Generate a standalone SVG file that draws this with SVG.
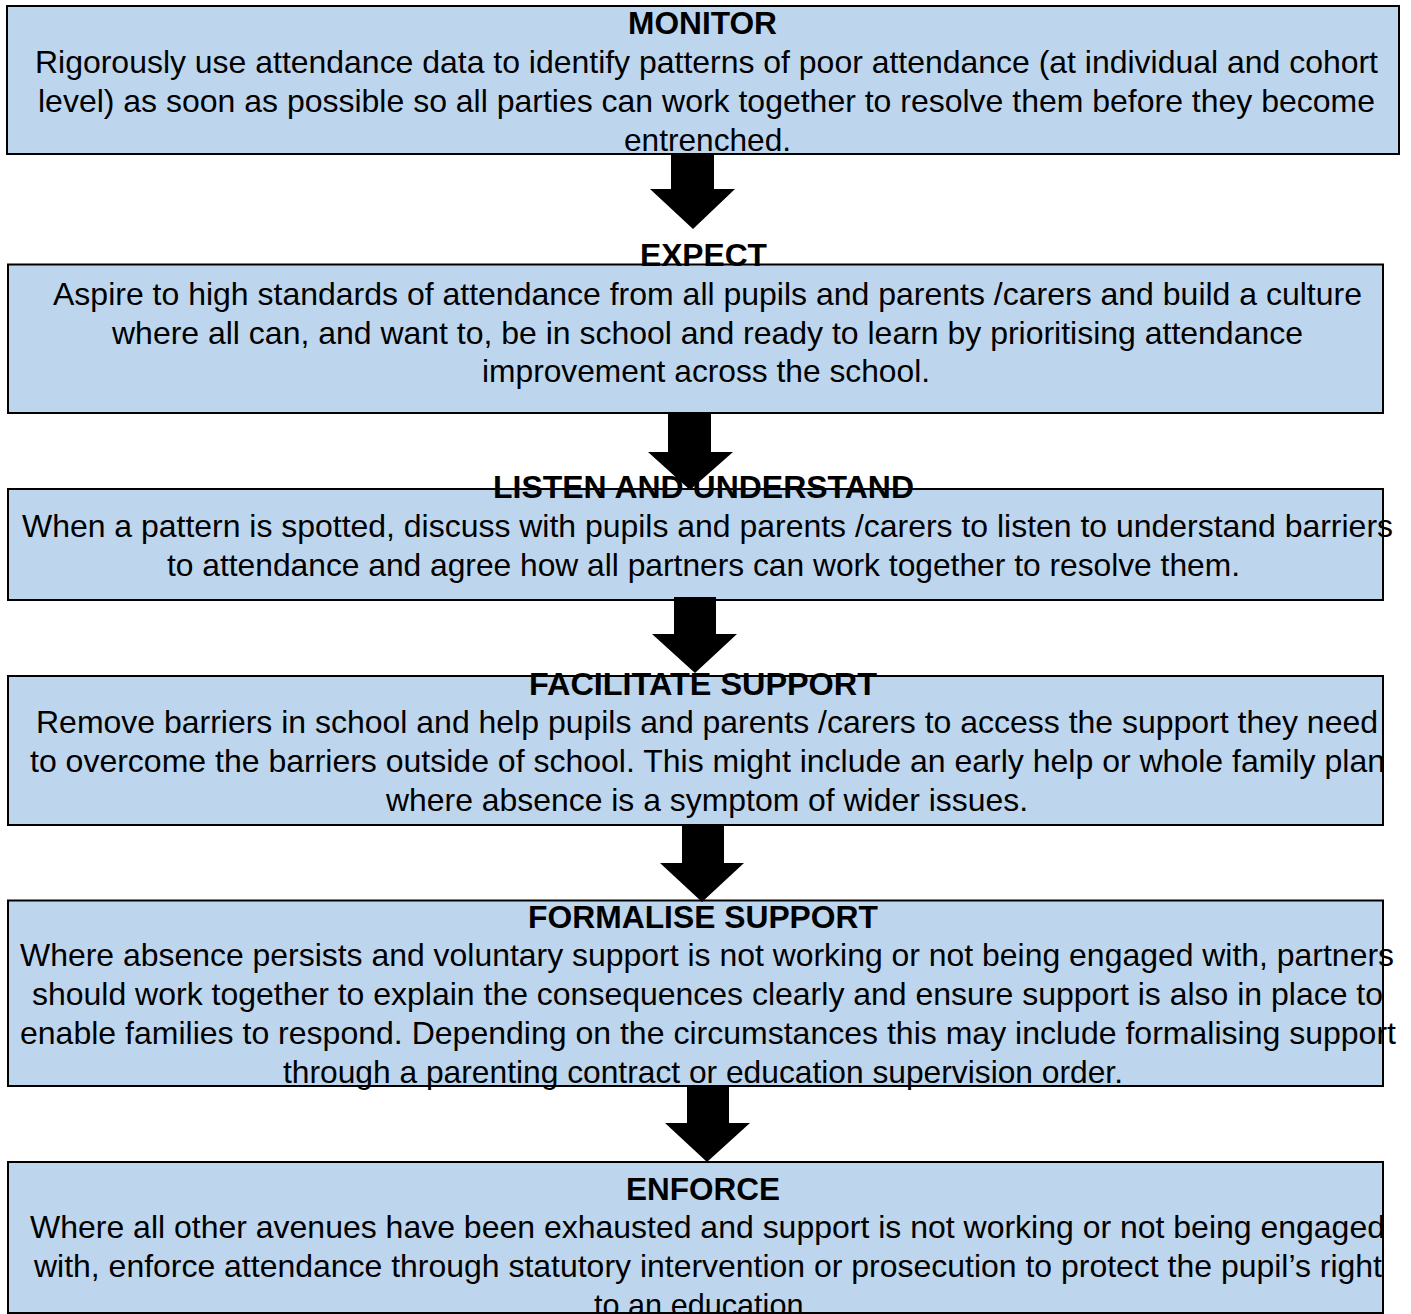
<svg xmlns="http://www.w3.org/2000/svg" width="1411" height="1314" viewBox="0 0 1411 1314">
<style>
.box{fill:#BDD6EE;stroke:#000;stroke-width:2}
.t{font-family:Arial,"Liberation Sans",Arimo,Helvetica,sans-serif;font-size:30.5px;fill:#000;text-anchor:middle}
.h{font-weight:bold}
.arr{fill:#000}
</style>
<rect width="1411" height="1314" fill="#fff"/>
<g id="monitor">
<rect class="box" x="7" y="6" width="1392" height="148"/>
<text class="t h" x="702.5" y="34.3" textLength="149" lengthAdjust="spacingAndGlyphs">MONITOR</text>
<text class="t" x="706.5" y="73" textLength="1343" lengthAdjust="spacingAndGlyphs">Rigorously use attendance data to identify patterns of poor attendance (at individual and cohort</text>
<text class="t" x="706.5" y="111.8" textLength="1337" lengthAdjust="spacingAndGlyphs">level) as soon as possible so all parties can work together to resolve them before they become</text>
<text class="t" x="707.5" y="150.5" textLength="167" lengthAdjust="spacingAndGlyphs">entrenched.</text>
</g>
<g id="expect">
<rect class="box" x="8" y="264.5" width="1375" height="148.5"/>
<text class="t h" x="703.5" y="266" textLength="127" lengthAdjust="spacingAndGlyphs">EXPECT</text>
<text class="t" x="707.5" y="304.75" textLength="1309" lengthAdjust="spacingAndGlyphs">Aspire to high standards of attendance from all pupils and parents /carers and build a culture</text>
<text class="t" x="707.5" y="343.5" textLength="1191" lengthAdjust="spacingAndGlyphs">where all can, and want to, be in school and ready to learn by prioritising attendance</text>
<text class="t" x="706" y="382.25" textLength="448" lengthAdjust="spacingAndGlyphs">improvement across the school.</text>
</g>
<g id="listen">
<rect class="box" x="8" y="489" width="1375" height="111"/>
<text class="t h" x="703.5" y="498" textLength="421" lengthAdjust="spacingAndGlyphs">LISTEN AND UNDERSTAND</text>
<text class="t" x="707.5" y="536.75" textLength="1371" lengthAdjust="spacingAndGlyphs">When a pattern is spotted, discuss with pupils and parents /carers to listen to understand barriers</text>
<text class="t" x="703.5" y="575.5" textLength="1073" lengthAdjust="spacingAndGlyphs">to attendance and agree how all partners can work together to resolve them.</text>
</g>
<g id="facilitate">
<rect class="box" x="8" y="676" width="1375" height="149"/>
<text class="t h" x="703" y="694.5" textLength="348" lengthAdjust="spacingAndGlyphs">FACILITATE SUPPORT</text>
<text class="t" x="707" y="733.25" textLength="1342" lengthAdjust="spacingAndGlyphs">Remove barriers in school and help pupils and parents /carers to access the support they need</text>
<text class="t" x="707.5" y="772" textLength="1355" lengthAdjust="spacingAndGlyphs">to overcome the barriers outside of school. This might include an early help or whole family plan</text>
<text class="t" x="707" y="810.75" textLength="642" lengthAdjust="spacingAndGlyphs">where absence is a symptom of wider issues.</text>
</g>
<g id="formalise">
<rect class="box" x="8" y="900.5" width="1375" height="185.5"/>
<text class="t h" x="703" y="927.5" textLength="350" lengthAdjust="spacingAndGlyphs">FORMALISE SUPPORT</text>
<text class="t" x="707" y="966.25" textLength="1374" lengthAdjust="spacingAndGlyphs">Where absence persists and voluntary support is not working or not being engaged with, partners</text>
<text class="t" x="707.5" y="1005" textLength="1351" lengthAdjust="spacingAndGlyphs">should work together to explain the consequences clearly and ensure support is also in place to</text>
<text class="t" x="708" y="1043.75" textLength="1376" lengthAdjust="spacingAndGlyphs">enable families to respond. Depending on the circumstances this may include formalising support</text>
<text class="t" x="703" y="1082.5" textLength="840" lengthAdjust="spacingAndGlyphs">through a parenting contract or education supervision order.</text>
</g>
<g id="enforce">
<rect class="box" x="8" y="1162" width="1375" height="151"/>
<text class="t h" x="703" y="1199.5" textLength="154" lengthAdjust="spacingAndGlyphs">ENFORCE</text>
<text class="t" x="707.5" y="1238.25" textLength="1355" lengthAdjust="spacingAndGlyphs">Where all other avenues have been exhausted and support is not working or not being engaged</text>
<text class="t" x="708" y="1277" textLength="1348" lengthAdjust="spacingAndGlyphs">with, enforce attendance through statutory intervention or prosecution to protect the pupil’s right</text>
<text class="t" x="703" y="1315.75" textLength="218" lengthAdjust="spacingAndGlyphs">to an education.</text>
</g>
<g id="connectors">
<polygon class="arr" points="671,153 714,153 714,189 735,189 693,229 650,189 671,189"/>
<polygon class="arr" points="668,413 711,413 711,452 733,452 690,490 648,452 668,452"/>
<polygon class="arr" points="674,597 716,597 716,634 737,634 695,673 652,634 674,634"/>
<polygon class="arr" points="682,825 724,825 724,863 744,863 702,902 660,863 682,863"/>
<polygon class="arr" points="687,1086 729,1086 729,1123 750,1123 707,1162 665,1123 687,1123"/>
</g>
</svg>
